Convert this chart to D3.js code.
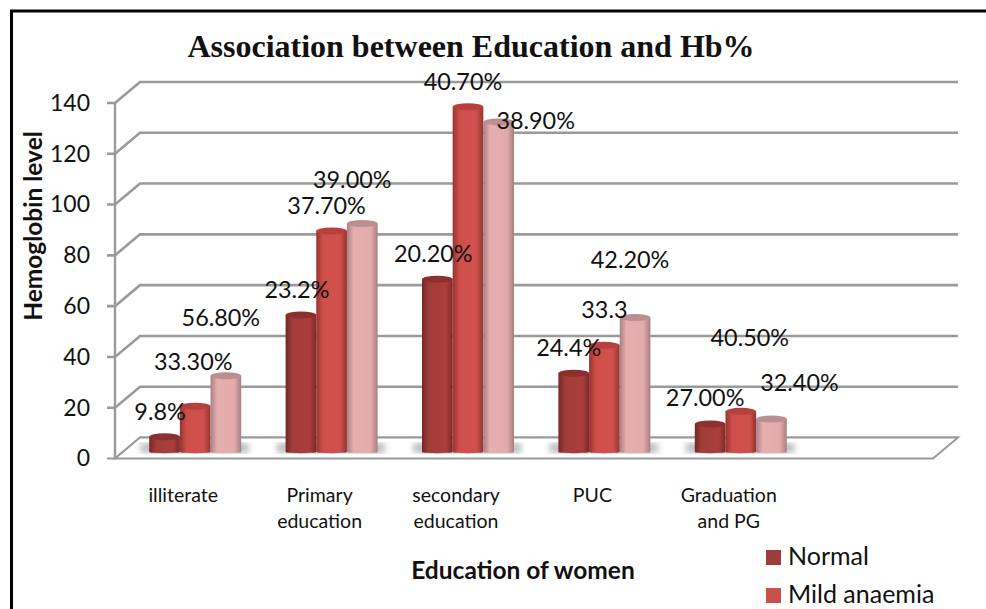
<!DOCTYPE html>
<html><head><meta charset="utf-8">
<script src="https://cdn.jsdelivr.net/npm/d3@7"></script>
<style>html,body{margin:0;padding:0;background:#fff;overflow:hidden}svg{display:block}
text{fill:#111}</style></head>
<body><svg id="c" width="986" height="609"></svg>
<script>
const categories = [["illiterate"],["Primary","education"],["secondary","education"],["PUC"],["Graduation","and PG"]];
const seriesNames = ["Normal","Mild anaemia","Severe anaemia"];
const normal = [6,54,68,31,11];
const mild = [18,87,136,42,16];
const severe = [30,90,130,53,13];
const normalLabels = ["9.8%","23.2%","20.20%","24.4%","27.00%"];
const mildLabels = ["33.30%","37.70%","40.70%","33.3","40.50%"];
const severeLabels = ["56.80%","39.00%","38.90%","42.20%","32.40%"];
const yTicks = [0,20,40,60,80,100,120,140];
const legendShown = ["Normal","Mild anaemia"];

const colors = [
  ["#742624","#a13c3a","#ab3e3b","#7c2a28"],
  ["#97332f","#cf4f4b","#cf504c","#933431"],
  ["#a98083","#e6aeae","#e3aaaa","#a67e81"]];
const topColors = ["#8b302e","#b5403c","#b98f92"];

const svg = d3.select("#c");
const defs = svg.append("defs");
colors.forEach((c,i)=>{
  const g = defs.append("linearGradient").attr("id","cyl"+i);
  [0,.22,.78,1].forEach((o,k)=>g.append("stop").attr("offset",o).attr("stop-color",c[k]));
});
defs.append("filter").attr("id","blur").append("feGaussianBlur").attr("stdDeviation",3);

// Frame: only the top and left edges are in view
svg.append("path").attr("d","M11.5,609V11H986").attr("fill","none").attr("stroke","#000").attr("stroke-width",3);

// Scales
const dx = 25, dy = -21;
const y = d3.scaleLinear().domain([0,140]).range([458.5,103]);
const x = d3.scaleBand().domain(d3.range(5)).range([115,797]);
const inner = d3.scaleBand().domain(d3.range(3)).range([0,92]);
const xEnd = 933;
const grey = "#9a9a9a";

// Walls and gridlines
const g = svg.append("g");
yTicks.forEach(t=>{
  const yy = y(t);
  g.append("path").attr("d",`M107,${yy}H115L${115+dx},${yy+dy}H${xEnd+dx}`)
    .attr("fill","none").attr("stroke",grey).attr("stroke-width",t===0?2:2.6);
});
g.append("line").attr("x1",115).attr("x2",115).attr("y1",y(140)).attr("y2",y(0)).attr("stroke",grey).attr("stroke-width",2.4);
g.append("path").attr("d",`M115,${y(0)}L${115+dx},${y(0)+dy}H${xEnd+dx}L${xEnd},${y(0)}Z`)
  .attr("fill","#fff").attr("stroke",grey).attr("stroke-width",2);

// Bars
const barBase = y(0)-6.5, ry = 3.5;
const barG = svg.append("g");
const barX = (i,s)=>x(i)+x.bandwidth()/2 - 34 + inner(s) + inner.bandwidth()/2;
const barTop = v=>barBase-(y(0)-y(v));
categories.forEach((c,i)=>{
  barG.append("rect").attr("x",barX(i,0)-24).attr("y",barBase-9).attr("width",108).attr("height",10)
    .attr("fill","#7d8584").attr("opacity",.55).attr("filter","url(#blur)");
});
[normal,mild,severe].forEach((vals,s)=>{
  vals.forEach((v,i)=>{
    const cx = barX(i,s), top = barTop(v), w = inner.bandwidth()/2;
    barG.append("path")
      .attr("d",`M${cx-w},${top}V${barBase}A${w},1.2 0 0 0 ${cx+w},${barBase}V${top}Z`)
      .attr("fill",`url(#cyl${s})`);
    barG.append("ellipse").attr("cx",cx).attr("cy",top).attr("rx",w).attr("ry",ry)
      .attr("fill",topColors[s]);
  });
});

// Axis text
const yAxis = svg.append("g").attr("font-family","Lato").attr("font-size",23);
yTicks.forEach(t=>yAxis.append("text").attr("x",90).attr("y",y(t)+2).attr("text-anchor","end")
  .attr("dominant-baseline","middle").text(t));
const catG = svg.append("g").attr("font-family","Lato").attr("font-size",19.5).attr("text-anchor","middle");
categories.forEach((c,i)=>{
  c.forEach((line,k)=>catG.append("text").attr("x",x(i)+x.bandwidth()/2).attr("y",502+k*26).text(line));
});
svg.append("text").attr("x",471).attr("y",57).attr("text-anchor","middle")
  .attr("font-family","Liberation Serif").attr("font-weight","bold").attr("font-size",32).text("Association between Education and Hb%");
svg.append("text").attr("transform","translate(42,226) rotate(-90)").attr("text-anchor","middle")
  .attr("font-family","Lato").attr("font-weight","bold").attr("font-size",24.5).text("Hemoglobin level");
svg.append("text").attr("x",523).attr("y",579).attr("text-anchor","middle")
  .attr("font-family","Lato").attr("font-weight","bold").attr("font-size",24.5).text("Education of women");

// Data labels: hand-placed in the original, so each has an offset from its bar's top
const labelOffset = [
  [[-4.5,-24],[-4,-23.5],[-4,-24],[-5,-24.5],[-5,-25]],
  [[-2,-43],[-5,-24.5],[-5,-24],[0,-34.5],[9,-72.5]],
  [[-5,-56.5],[-10,-42],[37,0],[-5,-56],[28,-35]]
];
const lab = svg.append("g").attr("font-family","Lato").attr("font-size",23.4).attr("text-anchor","middle");
[[normal,normalLabels],[mild,mildLabels],[severe,severeLabels]].forEach(([vals,labs],s)=>{
  vals.forEach((v,i)=>{
    lab.append("text").attr("x",barX(i,s)+labelOffset[s][i][0]).attr("y",barTop(v)+labelOffset[s][i][1]+1)
      .attr("dominant-baseline","middle").text(labs[i]);
  });
});

// Legend
const lg = svg.append("g").attr("font-family","Lato").attr("font-size",25);
legendShown.forEach((n,i)=>{
  const s = seriesNames.indexOf(n);
  lg.append("rect").attr("x",766).attr("y",550+i*38).attr("width",15).attr("height",15).attr("fill",["#9c3d3b","#c8504c"][s]);
  lg.append("text").attr("x",788).attr("y",565+i*38).text(n);
});
</script></body></html>
